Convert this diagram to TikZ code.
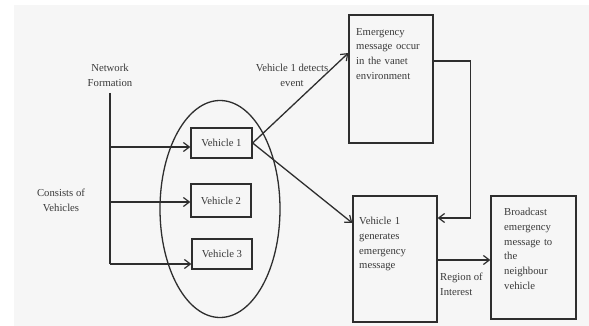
\documentclass[tikz,border=0pt]{standalone}
\usepackage{fontspec}
\setmainfont{Liberation Serif}
\usetikzlibrary{shapes.geometric,arrows.meta}
\definecolor{bggray}{HTML}{F6F6F6}
\definecolor{ink}{HTML}{2E2E2E}
\definecolor{txt}{HTML}{3A3A3A}
\begin{document}
\begin{tikzpicture}[x=1pt,y=-1pt,
  line/.style={draw=ink,line width=1.3pt},
  arr/.style={line,-{Straight Barb[length=6pt,width=9pt,line width=1.2pt]}},
  box/.style={draw=ink,line width=1.3pt,rectangle,inner sep=0pt},
  lbl/.style={text=txt,font=\fontsize{10.7}{14.7}\selectfont,inner sep=0pt},
  blk/.style={lbl,align=left,anchor=north west,text width=76pt}]
\useasboundingbox (0,0) rectangle (589,326);
\fill[white] (0,0) rectangle (589,326);
\fill[bggray] (14,5) rectangle (589,326);
% left labels and trunk
\node[lbl,align=center] (net) at (110,75) {Network\\Formation};
\node[lbl,align=center] (cons) at (61,200) {Consists of\\Vehicles};
\coordinate (nf) at (110,93);
\coordinate (nb) at (110,264);
\coordinate (c1) at (110,147);
\coordinate (c2) at (110,202);
\coordinate (c3) at (110,264);
% ellipse and vehicles
\node[draw=ink,line width=1.3pt,ellipse,minimum width=120pt,minimum height=217pt,inner sep=0pt] (ell) at (220,209) {};
\node[box,minimum width=61pt,minimum height=30pt,lbl] (v1) at (221.5,143) {Vehicle 1};
\node[box,minimum width=60pt,minimum height=33pt,lbl] (v2) at (221,200.5) {Vehicle 2};
\node[box,minimum width=60pt,minimum height=30pt,lbl] (v3) at (222,254) {Vehicle 3};
\draw[line] (nf) -- (nb);
\draw[arr] (c1) -- (c1 -| v1.west);
\draw[arr] (c2) -- (c2 -| v2.west);
\draw[arr] (c3) -- (c3 -| v3.west);
% right boxes
\node[box,minimum width=84pt,minimum height=128pt] (emerg) at (391,79) {};
\node[blk] (emergt) at (356,28) {Emergency\\message occur\\in the vanet\\environment};
\node[box,minimum width=84pt,minimum height=126pt] (gen) at (395,259) {};
\node[blk] (gent) at (359,217) {Vehicle 1\\generates\\emergency\\message};
\node[box,minimum width=85pt,minimum height=123pt] (bc) at (533.5,257.5) {};
\node[blk] (bct) at (504,208) {Broadcast\\emergency\\message to\\the\\neighbour\\vehicle};
% connectors
\draw[arr] (v1.east) -- ([yshift=26pt]emerg.west);
\node[lbl,align=center] (det) at (292,75) {Vehicle 1 detects\\event};
\draw[arr] (v1.east) -- ([yshift=36pt]gen.west);
\draw[arr] ([yshift=18pt]emerg.east) -- ++(37,0) |- ([yshift=41pt]gen.east);
\draw[arr] ([yshift=-1pt]gen.east) -- ([yshift=-1pt]gen.east -| bc.west);
\node[lbl,align=left,anchor=west] (roi) at (440,284) {Region of\\Interest};
\end{tikzpicture}
\end{document}
